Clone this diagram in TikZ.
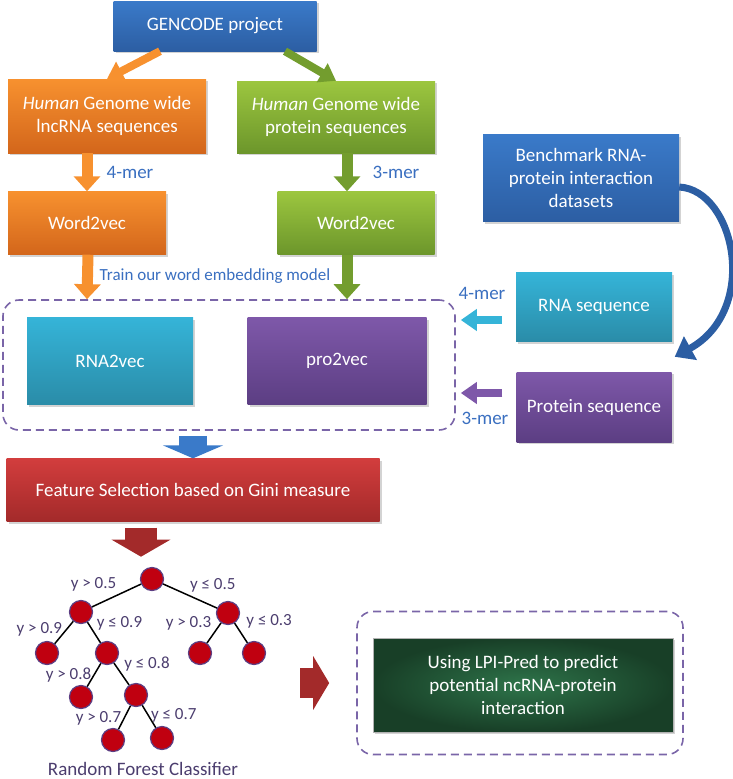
\documentclass[tikz,border=0pt]{standalone}
\usepackage{fontspec}
\setmainfont{Carlito}
\usepackage{tikz}
\usetikzlibrary{arrows.meta, positioning, shadows}

\definecolor{gcblue}{HTML}{3A7AC9}
\definecolor{gcbluedk}{HTML}{2C5EA3}
\definecolor{lncor}{HTML}{F7912F}
\definecolor{lncordk}{HTML}{D3661B}
\definecolor{prgrn}{HTML}{9CC63F}
\definecolor{prgrndk}{HTML}{6C962B}
\definecolor{rnacy}{HTML}{35B4D8}
\definecolor{rnacydk}{HTML}{2A8CA8}
\definecolor{propu}{HTML}{7E58A9}
\definecolor{propudk}{HTML}{5C3E83}
\definecolor{gini}{HTML}{D23D3D}
\definecolor{ginidk}{HTML}{A32A2A}
\definecolor{lpigr}{HTML}{2E744A}
\definecolor{lpigrdk}{HTML}{183F27}
\definecolor{lblblue}{HTML}{3A6FC0}
\definecolor{treetxt}{HTML}{4B3D6E}
\definecolor{dashpu}{HTML}{7A65A8}
\definecolor{leafred}{HTML}{C00010}

\begin{document}
\begin{tikzpicture}[x=1pt, y=-1pt,
  box/.style={text=white, align=center, font=\fontsize{19}{23}\selectfont,
              inner sep=0pt,
              drop shadow={opacity=0.35, shadow xshift=2pt, shadow yshift=-2pt}},
  gcbox/.style={box, top color=gcblue, bottom color=gcbluedk},
  orbox/.style={box, top color=lncor, bottom color=lncordk},
  grbox/.style={box, top color=prgrn, bottom color=prgrndk},
  cybox/.style={box, top color=rnacy, bottom color=rnacydk},
  pubox/.style={box, top color=propu, bottom color=propudk},
  rdbox/.style={box, top color=gini, bottom color=ginidk},
  dashbox/.style={draw=dashpu, line width=1.6pt, dash pattern=on 8pt off 5pt,
                  rounded corners=16pt, inner sep=0pt},
  lbl/.style={text=lblblue, font=\fontsize{19}{23}\selectfont},
  leaf/.style={circle, fill=leafred, draw=propudk, line width=1.2pt,
               minimum size=23pt, inner sep=0pt},
  edge/.style={line width=1.5pt},
  ylbl/.style={text=treetxt, font=\fontsize{17}{20}\selectfont, inner sep=2pt},
  fat/.style={line width=11pt, -{Triangle[width=26pt, length=15pt]}},
  slim/.style={line width=8pt, -{Triangle[width=21pt, length=16pt]}}]

\useasboundingbox (0,0) rectangle (732,779);

% top part: GENCODE and word2vec models
\node[gcbox, minimum width=203pt, minimum height=50pt] (gencode) at (215,26) {GENCODE project};
\node[orbox, minimum width=198pt, minimum height=74pt] (lnc) at (107,116)
  {\textit{Human} Genome wide\\lncRNA sequences};
\node[grbox, minimum width=198pt, minimum height=72pt] (prot) at (336,117)
  {\textit{Human} Genome wide\\protein sequences};
\node[orbox, minimum width=158pt, minimum height=63pt] (wl) at (87,223) {Word2vec};
\node[grbox, minimum width=157pt, minimum height=63pt] (wr) at (356,223) {Word2vec};

\draw[slim, lncor] ([xshift=-55pt]gencode.south) -- (lnc.north);
\draw[slim, prgrndk!85!prgrn] ([xshift=70pt]gencode.south) -- (prot.north);
\draw[fat, lncor] (lnc.south -| wl.north) -- (wl.north);
\draw[fat, prgrndk!85!prgrn] ([xshift=11pt]prot.south) -- ([xshift=-9pt]wr.north);
\node[lbl] (k4a) at (130,172) {4-mer};
\node[lbl] (k3a) at (396,172) {3-mer};

% embedding models
\node[dashbox, minimum width=452pt, minimum height=130pt] (emb) at (229,365) {};
\node[cybox, minimum width=166pt, minimum height=87pt] (rna2vec) at (110,361) {RNA2vec};
\node[pubox, minimum width=179pt, minimum height=87pt] (pro2vec) at (337,361) {pro2vec};
\draw[fat, lncor] ([xshift=1pt]wl.south) -- (emb.north -| wl.south);
\draw[fat, prgrndk!85!prgrn] ([xshift=-9pt]wr.south) -- ([xshift=-9pt]emb.north -| wr.south);
\node[lbl, font=\fontsize{17}{20}\selectfont] (train) at (215,276) {Train our word embedding model};

% benchmark datasets
\node[gcbox, minimum width=196pt, minimum height=87pt] (bench) at (581,178)
  {Benchmark RNA-\\protein interaction\\datasets};
\node[cybox, minimum width=156pt, minimum height=69pt] (rnaseq) at (594,307) {RNA sequence};
\node[pubox, minimum width=155pt, minimum height=70pt] (protseq) at (594,407) {Protein sequence};
\draw[line width=7pt, gcbluedk, -{Triangle[width=26pt, length=18pt]}]
  ([yshift=-9pt]bench.east) .. controls (735,190) and (760,310) .. ([xshift=3pt, yshift=15pt]protseq.north east);
\draw[slim, rnacy] ([xshift=-14pt]rnaseq.west |- 0,320) -- ([xshift=5pt]emb.east |- 0,320);
\draw[slim, propu] ([xshift=-14pt]protseq.west |- 0,393) -- ([xshift=5pt]emb.east |- 0,393);
\node[lbl] (k4b) at (482,293) {4-mer};
\node[lbl] (k3b) at (485,418) {3-mer};

% feature selection
\node[rdbox, minimum width=373pt, minimum height=63pt] (feat) at (193,490)
  {Feature Selection based on Gini measure};
\draw[line width=28pt, gcblue, -{Triangle[width=60pt, length=13pt]}]
  ([yshift=-5pt]emb.south -| feat.north) -- (feat.north);
\draw[line width=32pt, ginidk, -{Triangle[width=58pt, length=17pt]}]
  ([xshift=-52pt, yshift=-6pt]feat.south) -- ([xshift=-52pt, yshift=-35pt]feat.south);

% random forest tree
\node[leaf] (t0) at (152,579) {};
\node[leaf] (t1) at (81,612) {};
\node[leaf] (t2) at (228,613) {};
\node[leaf] (t3) at (47,653) {};
\node[leaf] (t4) at (107,653) {};
\node[leaf] (t5) at (200,653) {};
\node[leaf] (t6) at (254,653) {};
\node[leaf] (t7) at (81,697) {};
\node[leaf] (t8) at (136,695) {};
\node[leaf] (t9) at (113,740) {};
\node[leaf] (t10) at (162,738) {};
\draw[edge] (t0) -- node[ylbl, above left, pos=.45] {y > 0.5} (t1);
\draw[edge] (t0) -- node[ylbl, above right, pos=.45] {y ≤ 0.5} (t2);
\draw[edge] (t1) -- node[ylbl, left, pos=.35, xshift=-2pt] {y > 0.9} (t3);
\draw[edge] (t1) -- node[ylbl, above right, pos=.5] {y ≤ 0.9} (t4);
\draw[edge] (t2) -- node[ylbl, above left, pos=.5] {y > 0.3} (t5);
\draw[edge] (t2) -- node[ylbl, above right, pos=.4, xshift=4pt] {y ≤ 0.3} (t6);
\draw[edge] (t4) -- node[ylbl, left, pos=.5] {y > 0.8} (t7);
\draw[edge] (t4) -- node[ylbl, above right, pos=.5] {y ≤ 0.8} (t8);
\draw[edge] (t8) -- node[ylbl, left, pos=.55] {y > 0.7} (t9);
\draw[edge] (t8) -- node[ylbl, right, pos=.45] {y ≤  0.7} (t10);
\node[text=treetxt, font=\fontsize{19}{23}\selectfont] (rfc) at (143,769) {Random Forest Classifier};

% prediction
\node[dashbox, minimum width=326pt, minimum height=143pt] (out) at (520,683) {};
\node[box, inner color=lpigr, outer color=lpigrdk, draw=gray!60, line width=0.6pt,
      minimum width=300pt, minimum height=94pt] (lpi) at (523,685)
  {Using LPI-Pred to predict\\potential ncRNA-protein\\interaction};
\draw[line width=30pt, ginidk, -{Triangle[width=53pt, length=16pt]}]
  ([xshift=-56pt]out.west) -- ([xshift=-27pt]out.west);
\end{tikzpicture}
\end{document}
